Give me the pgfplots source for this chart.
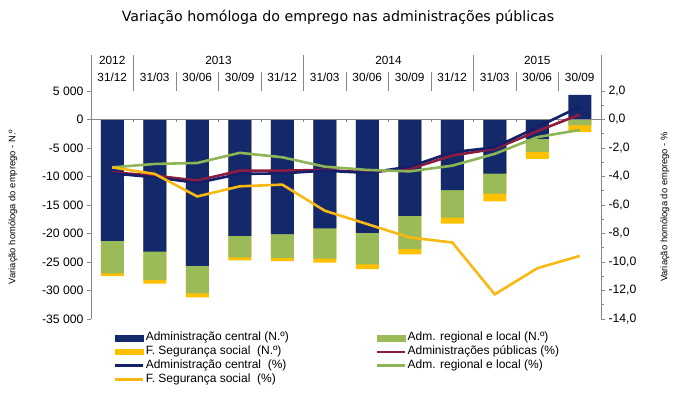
\documentclass[border=0pt]{standalone}
\usepackage{pgfplots}
\usepackage{pgfplotstable}
\pgfplotsset{compat=1.18}
\usepackage{fontspec}
\setmainfont{Liberation Sans}
\newfontfamily\titlefont{DejaVu Sans}
\definecolor{navybar}{HTML}{13296B}
\definecolor{greenbar}{HTML}{9BBB59}
\definecolor{goldbar}{HTML}{FFC000}
\definecolor{redline}{HTML}{8E1B3E}
\definecolor{navyline}{HTML}{14206A}
\definecolor{greenline}{HTML}{8DB556}
\definecolor{goldline}{HTML}{F9B912}
\definecolor{axgray}{HTML}{868686}

% bar levels (bottom of each segment, N.o)
\pgfplotstableread{
i central regional seg
0  -21300 -27000 -27500
1  -23200 -28200 -28800
2  -25700 -30500 -31200
3  -20400 -24200 -24700
4  -20100 -24300 -24850
5  -19100 -24400 -25100
6  -19900 -25400 -26250
7  -16900 -22750 -23650
8  -12400 -17200 -18250
9  -9500  -13000 -14350
10 -3400  -5700  -6900
11 4300   -1050  -2200
}\bardata

% percentage lines
\pgfplotstableread{
i ap ac arl fss
0  -3.71 -3.78 -3.36 -3.36
1  -3.94 -4.06 -3.12 -3.82
2  -4.29 -4.45 -3.05 -5.40
3  -3.59 -3.82 -2.34 -4.69
4  -3.59 -3.78 -2.65 -4.57
5  -3.54 -3.59 -3.31 -6.40
6  -3.71 -3.75 -3.54 -7.34
7  -3.47 -3.31 -3.64 -8.28
8  -2.53 -2.30 -3.24 -8.63
9  -2.06 -1.95 -2.41 -12.27
10 -0.82 -0.54 -1.24 -10.44
11 0.35  0.91  -0.73 -9.57
}\linedata

\begin{document}
\begin{tikzpicture}
\useasboundingbox (0pt,0pt) rectangle (680pt,398pt);
\node[font=\titlefont\fontsize{14.2}{17}\selectfont, text=black] at (338pt,381pt) {Variação homóloga do emprego nas administrações públicas};

\begin{axis}[
  at={(91pt,79pt)}, anchor=south west,
  scale only axis, width=510pt, height=228pt,
  xmin=-0.5, xmax=11.5, ymin=-35000, ymax=5000,
  axis x line=none, axis y line*=left,
  clip=false,
  ytick={-35000,-30000,...,5000},
  scaled y ticks=false,
  tick align=outside, major tick length=4pt,
  y axis line style={axgray, line width=0.8pt},
  ytick style={axgray, line width=0.8pt},
  yticklabel style={font=\fontsize{12.2}{14}\selectfont, text=black,
    /pgf/number format/assume math mode=true,
    /pgf/number format/1000 sep={\ }},
  ylabel={Variação homóloga do emprego - N.º},
  ylabel style={font=\fontsize{9.4}{11}\selectfont, at={(axis description cs:-0.153,0.491)}, anchor=center},
]
\addplot[ybar, bar width=23pt, bar shift=0pt, fill=goldbar, draw=none, forget plot] table[x=i,y=seg]{\bardata};
\addplot[ybar, bar width=23pt, bar shift=0pt, fill=greenbar, draw=none, forget plot] table[x=i,y=regional]{\bardata};
\addplot[ybar, bar width=23pt, bar shift=0pt, fill=navybar, draw=none, forget plot] table[x=i,y=central]{\bardata};

% zero line with category ticks
\draw[axgray, line width=0.8pt] (axis cs:-0.5,0) -- (axis cs:11.5,0);
\draw[axgray, line width=0.8pt]
  (axis cs:0.5,0) -- ++(0pt,-3pt) (axis cs:1.5,0) -- ++(0pt,-3pt)
  (axis cs:2.5,0) -- ++(0pt,-3pt) (axis cs:3.5,0) -- ++(0pt,-3pt)
  (axis cs:4.5,0) -- ++(0pt,-3pt) (axis cs:5.5,0) -- ++(0pt,-3pt)
  (axis cs:6.5,0) -- ++(0pt,-3pt) (axis cs:7.5,0) -- ++(0pt,-3pt)
  (axis cs:8.5,0) -- ++(0pt,-3pt) (axis cs:9.5,0) -- ++(0pt,-3pt)
  (axis cs:10.5,0) -- ++(0pt,-3pt);

% header table
\draw[axgray, line width=0.8pt]
  (axis cs:-0.5,5000) -- (axis cs:-0.5,11320)
  (axis cs:0.5,5000) -- (axis cs:0.5,11320)
  (axis cs:4.5,5000) -- (axis cs:4.5,11320)
  (axis cs:8.5,5000) -- (axis cs:8.5,11320)
  (axis cs:11.5,5000) -- (axis cs:11.5,11320)
  (axis cs:1.5,5000) -- (axis cs:1.5,8320)
  (axis cs:2.5,5000) -- (axis cs:2.5,8320)
  (axis cs:3.5,5000) -- (axis cs:3.5,8320)
  (axis cs:5.5,5000) -- (axis cs:5.5,8320)
  (axis cs:6.5,5000) -- (axis cs:6.5,8320)
  (axis cs:7.5,5000) -- (axis cs:7.5,8320)
  (axis cs:9.5,5000) -- (axis cs:9.5,8320)
  (axis cs:10.5,5000) -- (axis cs:10.5,8320);
\begin{scope}[every node/.style={font=\fontsize{11.8}{14}\selectfont, text=black}]
\node at (axis cs:0,10440) {2012};
\node at (axis cs:2.5,10440) {2013};
\node at (axis cs:6.5,10440) {2014};
\node at (axis cs:10,10440) {2015};
\node at (axis cs:0,7440) {31/12};
\node at (axis cs:1,7440) {31/03};
\node at (axis cs:2,7440) {30/06};
\node at (axis cs:3,7440) {30/09};
\node at (axis cs:4,7440) {31/12};
\node at (axis cs:5,7440) {31/03};
\node at (axis cs:6,7440) {30/06};
\node at (axis cs:7,7440) {30/09};
\node at (axis cs:8,7440) {31/12};
\node at (axis cs:9,7440) {31/03};
\node at (axis cs:10,7440) {30/06};
\node at (axis cs:11,7440) {30/09};
\end{scope}
\end{axis}

\begin{axis}[
  at={(91pt,79pt)}, anchor=south west,
  scale only axis, width=510pt, height=228pt,
  xmin=-0.5, xmax=11.5, ymin=-14, ymax=2,
  axis x line=none, axis y line*=right,
  clip=false,
  ytick={-14,-12,...,2},
  minor y tick num=1,
  tick align=outside, major tick length=4pt, minor tick length=3pt,
  y axis line style={axgray, line width=0.8pt},
  ytick style={axgray, line width=0.8pt},
  minor y tick style={axgray, line width=0.8pt},
  yticklabel style={font=\fontsize{12.2}{14}\selectfont, text=black,
    /pgf/number format/assume math mode=true,
    /pgf/number format/fixed,
    /pgf/number format/fixed zerofill,
    /pgf/number format/precision=1,
    /pgf/number format/use comma},
  ylabel={Variação homóloga do emprego - \%},
  ylabel style={font=\fontsize{9.4}{11}\selectfont, at={(axis description cs:1.1255,0.491)}, anchor=center},
  legend columns=2,
  legend cell align=left,
  legend image code/.code={\draw[line width=2.4pt] (0pt,0pt) -- (28pt,0pt);},
  legend style={draw=none, fill=none, at={(axis description cs:0.045,-0.052)}, anchor=north west,
    font=\fontsize{12}{14}\selectfont, inner sep=0pt, row sep=0pt,
    nodes={inner sep=1.2pt, text height=8.4pt, text depth=3pt},
    /tikz/every even column/.append style={column sep=86pt}},
]
\addlegendimage{legend image code/.code={\fill[navybar] (0pt,-2.8pt) rectangle (28pt,2.8pt);}}
\addlegendentry{Administração central (N.º)}
\addlegendimage{legend image code/.code={\fill[greenbar] (0pt,-2.8pt) rectangle (28pt,2.8pt);}}
\addlegendentry{Adm. regional e local (N.º)}
\addlegendimage{legend image code/.code={\fill[goldbar] (0pt,-2.8pt) rectangle (28pt,2.8pt);}}
\addlegendentry{F. Segurança social \ (N.º)}
\addplot[redline, line width=2.6pt, no markers] table[x=i,y=ap]{\linedata};
\addlegendentry{Administrações públicas (\%)}
\addplot[navyline, line width=2.6pt, no markers] table[x=i,y=ac]{\linedata};
\addlegendentry{Administração central \ (\%)}
\addplot[greenline, line width=2.6pt, no markers] table[x=i,y=arl]{\linedata};
\addlegendentry{Adm. regional e local (\%)}
\addplot[goldline, line width=2.6pt, no markers] table[x=i,y=fss]{\linedata};
\addlegendentry{F. Segurança social \ (\%)}
\end{axis}
\end{tikzpicture}
\end{document}
